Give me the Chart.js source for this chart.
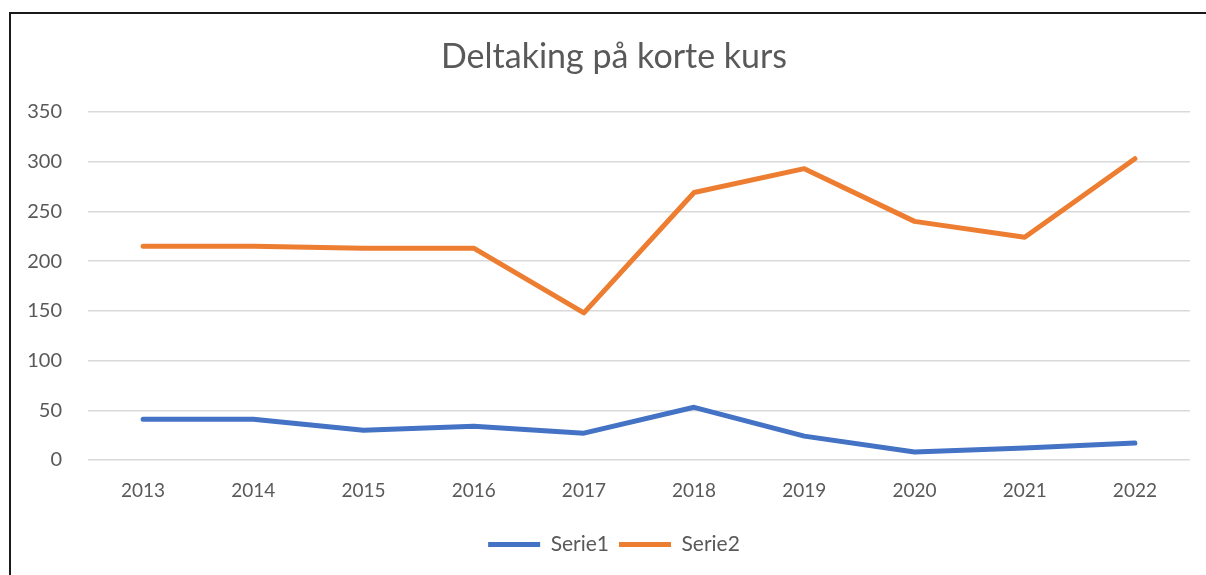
<!DOCTYPE html>
<html>
<head>
<meta charset="utf-8">
<script src="https://cdn.jsdelivr.net/npm/chart.js@4/dist/chart.umd.min.js"></script>
<style>
  html, body { margin: 0; padding: 0; background: #ffffff; }
  #wrap { position: relative; width: 1206px; height: 575px; overflow: hidden; }
  #frame { position: absolute; left: 9px; top: 12px; width: 1300px; height: 700px;
           border-left: 2px solid #1a1a1a; border-top: 2px solid #1a1a1a; pointer-events: none; }
  canvas { position: absolute; left: 0; top: 0; }
</style>
</head>
<body>
<div id="wrap">
  <canvas id="c" width="1206" height="575"></canvas>
  <div id="frame"></div>
</div>
<script>
const chartTitle = "Deltaking på korte kurs";
const years = ["2013", "2014", "2015", "2016", "2017", "2018", "2019", "2020", "2021", "2022"];
const serie1 = [41, 41, 30, 34, 27, 53, 24, 8, 12, 17];
const serie2 = [215, 215, 213, 213, 148, 269, 293, 240, 224, 303];
const seriesNames = ["Serie1", "Serie2"];
const yMin = 0, yMax = 350, yStep = 50;

const FONT = "Lato, 'Open Sans', sans-serif";
const TEXT = "#595959";

new Chart(document.getElementById("c"), {
  type: "line",
  data: {
    labels: years,
    datasets: [
      { label: seriesNames[0], data: serie1, borderColor: "#4472C4", backgroundColor: "#4472C4",
        borderWidth: 5, pointRadius: 0, pointHoverRadius: 0, tension: 0,
        borderCapStyle: "round", borderJoinStyle: "round", fill: false, yAxisID: "y" },
      { label: seriesNames[1], data: serie2, borderColor: "#ED7D31", backgroundColor: "#ED7D31",
        borderWidth: 5, pointRadius: 0, pointHoverRadius: 0, tension: 0,
        borderCapStyle: "round", borderJoinStyle: "round", fill: false, yAxisID: "y" }
    ]
  },
  options: {
    responsive: false,
    animation: false,
    devicePixelRatio: 1,
    layout: { padding: { left: 22, right: 0, top: 0, bottom: 10 } },
    plugins: {
      title: {
        display: true, text: chartTitle, color: TEXT,
        font: { family: FONT, size: 34, weight: "normal", lineHeight: 1.2 },
        padding: { top: 37, bottom: 34.2 }
      },
      legend: {
        display: true, position: "bottom",
        labels: {
          color: TEXT, font: { family: FONT, size: 21 },
          usePointStyle: true, pointStyleWidth: 52, pointStyle: "line",
          padding: 10
        }
      },
      tooltip: { enabled: false }
    },
    scales: {
      x: {
        offset: true,
        grid: { display: false, drawTicks: false },
        border: { display: false },
        ticks: { color: TEXT, font: { family: FONT, size: 19 }, padding: 19, maxRotation: 0 },
        afterFit(scale) { scale.height = 64; }
      },
      y: {
        min: yMin, max: yMax,
        grid: { color: "#d9d9d9", lineWidth: 1.5, drawTicks: false },
        border: { display: false },
        ticks: { stepSize: yStep, color: TEXT, font: { family: FONT, size: 20 }, padding: 26 },
        afterFit(scale) { scale.width = 66; }
      },
      yRight: {
        position: "right",
        min: yMin, max: yMax,
        grid: { display: false, drawTicks: false },
        border: { display: false },
        ticks: { display: false },
        afterFit(scale) { scale.width = 16; }
      }
    }
  }
});
</script>
</body>
</html>
